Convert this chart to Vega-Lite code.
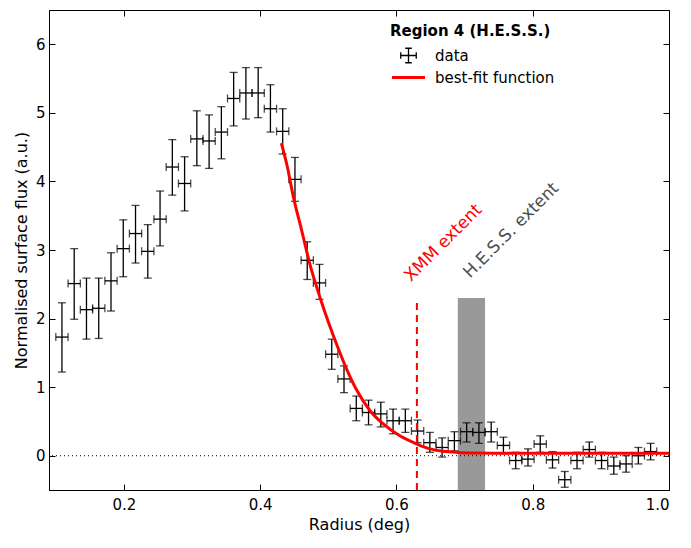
{
  "$schema": "https://vega.github.io/schema/vega-lite/v6.json",
  "width": 620,
  "height": 480,
  "autosize": "none",
  "padding": {"left": 49, "top": 10, "right": 22, "bottom": 58},
  "datasets": {
    "points": [
      {"r": 0.109, "r0": 0.100, "r1": 0.118, "f": 1.73, "lo": 1.22, "hi": 2.23},
      {"r": 0.127, "r0": 0.118, "r1": 0.136, "f": 2.51, "lo": 1.99, "hi": 3.02},
      {"r": 0.145, "r0": 0.136, "r1": 0.154, "f": 2.13, "lo": 1.70, "hi": 2.59},
      {"r": 0.163, "r0": 0.154, "r1": 0.172, "f": 2.15, "lo": 1.71, "hi": 2.59},
      {"r": 0.181, "r0": 0.172, "r1": 0.190, "f": 2.55, "lo": 2.11, "hi": 2.96},
      {"r": 0.199, "r0": 0.190, "r1": 0.208, "f": 3.02, "lo": 2.61, "hi": 3.44},
      {"r": 0.217, "r0": 0.208, "r1": 0.226, "f": 3.24, "lo": 2.81, "hi": 3.65},
      {"r": 0.235, "r0": 0.226, "r1": 0.244, "f": 2.98, "lo": 2.59, "hi": 3.37},
      {"r": 0.253, "r0": 0.244, "r1": 0.262, "f": 3.45, "lo": 3.06, "hi": 3.86},
      {"r": 0.271, "r0": 0.262, "r1": 0.280, "f": 4.21, "lo": 3.80, "hi": 4.61},
      {"r": 0.289, "r0": 0.280, "r1": 0.298, "f": 3.97, "lo": 3.57, "hi": 4.36},
      {"r": 0.307, "r0": 0.298, "r1": 0.316, "f": 4.62, "lo": 4.23, "hi": 5.03},
      {"r": 0.325, "r0": 0.316, "r1": 0.334, "f": 4.59, "lo": 4.19, "hi": 4.97},
      {"r": 0.343, "r0": 0.334, "r1": 0.352, "f": 4.72, "lo": 4.33, "hi": 5.09},
      {"r": 0.361, "r0": 0.352, "r1": 0.370, "f": 5.21, "lo": 4.81, "hi": 5.59},
      {"r": 0.379, "r0": 0.370, "r1": 0.388, "f": 5.29, "lo": 4.91, "hi": 5.66},
      {"r": 0.397, "r0": 0.388, "r1": 0.406, "f": 5.29, "lo": 4.93, "hi": 5.66},
      {"r": 0.415, "r0": 0.406, "r1": 0.424, "f": 5.06, "lo": 4.72, "hi": 5.41},
      {"r": 0.433, "r0": 0.424, "r1": 0.442, "f": 4.73, "lo": 4.40, "hi": 5.06},
      {"r": 0.451, "r0": 0.442, "r1": 0.460, "f": 4.03, "lo": 3.71, "hi": 4.35},
      {"r": 0.469, "r0": 0.460, "r1": 0.478, "f": 2.85, "lo": 2.57, "hi": 3.12},
      {"r": 0.487, "r0": 0.478, "r1": 0.496, "f": 2.52, "lo": 2.28, "hi": 2.79},
      {"r": 0.505, "r0": 0.496, "r1": 0.514, "f": 1.48, "lo": 1.26, "hi": 1.70},
      {"r": 0.523, "r0": 0.514, "r1": 0.532, "f": 1.12, "lo": 0.92, "hi": 1.31},
      {"r": 0.541, "r0": 0.532, "r1": 0.550, "f": 0.69, "lo": 0.51, "hi": 0.87},
      {"r": 0.559, "r0": 0.550, "r1": 0.568, "f": 0.63, "lo": 0.45, "hi": 0.81},
      {"r": 0.577, "r0": 0.568, "r1": 0.586, "f": 0.61, "lo": 0.42, "hi": 0.78},
      {"r": 0.595, "r0": 0.586, "r1": 0.604, "f": 0.51, "lo": 0.32, "hi": 0.68},
      {"r": 0.613, "r0": 0.604, "r1": 0.622, "f": 0.51, "lo": 0.34, "hi": 0.68},
      {"r": 0.631, "r0": 0.622, "r1": 0.640, "f": 0.36, "lo": 0.19, "hi": 0.52},
      {"r": 0.649, "r0": 0.640, "r1": 0.658, "f": 0.19, "lo": 0.05, "hi": 0.34},
      {"r": 0.667, "r0": 0.658, "r1": 0.676, "f": 0.12, "lo": -0.02, "hi": 0.26},
      {"r": 0.685, "r0": 0.676, "r1": 0.694, "f": 0.22, "lo": 0.07, "hi": 0.35},
      {"r": 0.703, "r0": 0.694, "r1": 0.712, "f": 0.35, "lo": 0.20, "hi": 0.48},
      {"r": 0.721, "r0": 0.712, "r1": 0.730, "f": 0.34, "lo": 0.18, "hi": 0.48},
      {"r": 0.739, "r0": 0.730, "r1": 0.748, "f": 0.35, "lo": 0.20, "hi": 0.49},
      {"r": 0.757, "r0": 0.748, "r1": 0.766, "f": 0.15, "lo": 0.03, "hi": 0.27},
      {"r": 0.775, "r0": 0.766, "r1": 0.784, "f": -0.07, "lo": -0.19, "hi": 0.05},
      {"r": 0.793, "r0": 0.784, "r1": 0.802, "f": -0.05, "lo": -0.15, "hi": 0.10},
      {"r": 0.811, "r0": 0.802, "r1": 0.820, "f": 0.17, "lo": 0.05, "hi": 0.29},
      {"r": 0.829, "r0": 0.820, "r1": 0.838, "f": -0.06, "lo": -0.18, "hi": 0.06},
      {"r": 0.847, "r0": 0.838, "r1": 0.856, "f": -0.35, "lo": -0.46, "hi": -0.23},
      {"r": 0.865, "r0": 0.856, "r1": 0.874, "f": -0.07, "lo": -0.19, "hi": 0.05},
      {"r": 0.883, "r0": 0.874, "r1": 0.892, "f": 0.09, "lo": -0.02, "hi": 0.20},
      {"r": 0.901, "r0": 0.892, "r1": 0.910, "f": -0.07, "lo": -0.19, "hi": 0.05},
      {"r": 0.919, "r0": 0.910, "r1": 0.928, "f": -0.15, "lo": -0.27, "hi": -0.02},
      {"r": 0.937, "r0": 0.928, "r1": 0.946, "f": -0.12, "lo": -0.24, "hi": 0.00},
      {"r": 0.955, "r0": 0.946, "r1": 0.964, "f": 0.00, "lo": -0.12, "hi": 0.12},
      {"r": 0.973, "r0": 0.964, "r1": 0.982, "f": 0.06, "lo": -0.06, "hi": 0.18}
    ],
    "fit": [
      {"r": 0.431, "f": 4.56},
      {"r": 0.439, "f": 4.25},
      {"r": 0.449, "f": 3.76},
      {"r": 0.461, "f": 3.28},
      {"r": 0.473, "f": 2.79},
      {"r": 0.488, "f": 2.30},
      {"r": 0.500, "f": 1.95},
      {"r": 0.512, "f": 1.63},
      {"r": 0.527, "f": 1.26},
      {"r": 0.542, "f": 0.95},
      {"r": 0.561, "f": 0.66},
      {"r": 0.581, "f": 0.46},
      {"r": 0.605, "f": 0.29},
      {"r": 0.630, "f": 0.17},
      {"r": 0.649, "f": 0.10},
      {"r": 0.669, "f": 0.065},
      {"r": 0.690, "f": 0.048},
      {"r": 0.720, "f": 0.039},
      {"r": 0.760, "f": 0.035},
      {"r": 0.850, "f": 0.035},
      {"r": 1.000, "f": 0.035}
    ],
    "band": [{"x0": 0.69, "x1": 0.73, "y0": -0.5, "y1": 2.3}],
    "xmm": [{"x": 0.63, "y0": -0.5, "y1": 2.3}],
    "labels": [
      {"x": 0.6215, "y": 2.53, "text": "XMM extent"},
      {"x": 0.708, "y": 2.58, "text": "H.E.S.S. extent"}
    ]
  },
  "layer": [
    {
      "data": {"name": "band"},
      "mark": {"type": "rect", "color": "#999999"},
      "encoding": {
        "x": {"field": "x0", "type": "quantitative", "scale": {"domain": [0.09, 1.0], "nice": false, "zero": false}, "axis": null},
        "x2": {"field": "x1"},
        "y": {"field": "y0", "type": "quantitative", "scale": {"domain": [-0.5, 6.5], "nice": false, "zero": false}, "axis": null},
        "y2": {"field": "y1"}
      }
    },
    {
      "data": {"values": [{"y": 0}]},
      "mark": {"type": "rule", "color": "black", "strokeWidth": 1, "strokeDash": [1, 3]},
      "encoding": {
        "y": {"field": "y", "type": "quantitative", "axis": null}
      }
    },
    {
      "data": {"name": "points"},
      "mark": {"type": "rule", "strokeWidth": 1.3},
      "encoding": {
        "x": {
          "field": "r", "type": "quantitative", "title": "Radius (deg)",
          "scale": {"domain": [0.09, 1.0], "nice": false, "zero": false},
          "axis": {"orient": "bottom", "values": [0.2, 0.4, 0.6, 0.8, 1.0], "format": ".1f", "tickSize": -6, "labelPadding": 13, "titlePadding": 4}
        },
        "y": {
          "field": "lo", "type": "quantitative", "title": "Normalised surface flux (a.u.)",
          "scale": {"domain": [-0.5, 6.5], "nice": false, "zero": false},
          "axis": {"orient": "left", "values": [0, 1, 2, 3, 4, 5, 6], "format": "d", "tickSize": -6, "labelPadding": 10, "titlePadding": 6}
        },
        "y2": {"field": "hi"},
        "color": {
          "datum": "data",
          "scale": {"domain": ["data", "best-fit function"], "range": ["black", "#ff0000"]},
          "legend": {
            "orient": "none",
            "legendX": 341,
            "legendY": 14,
            "title": "Region 4 (H.E.S.S.)",
            "titleFont": "DejaVu Sans",
            "titleFontSize": 15,
            "titleFontWeight": "bold",
            "titleColor": "black",
            "titlePadding": 9,
            "labelFont": "DejaVu Sans",
            "labelFontSize": 15,
            "labelColor": "black",
            "labelOffset": 19,
            "symbolOffset": 11,
            "symbolType": "stroke",
            "symbolSize": 1089,
            "rowPadding": 4,
            "encode": {
              "symbols": {
                "update": {
                  "shape": {"signal": "datum.value === 'data' ? 'M-0.47,0H0.47M0,-0.44V0.44M-0.47,-0.2V0.2M0.47,-0.2V0.2M-0.2,-0.44H0.2M-0.2,0.44H0.2' : 'stroke'"},
                  "strokeWidth": {"signal": "datum.value === 'data' ? 1.3 : 3"}
                }
              }
            }
          }
        }
      }
    },
    {
      "data": {"name": "points"},
      "mark": {"type": "rule", "color": "black", "strokeWidth": 1.3},
      "encoding": {
        "x": {"field": "r0", "type": "quantitative", "title": null,
          "axis": {"orient": "top", "values": [0.2, 0.4, 0.6, 0.8, 1.0], "labels": false, "domain": false, "tickSize": -6}},
        "x2": {"field": "r1"},
        "y": {"field": "f", "type": "quantitative", "title": null,
          "axis": {"orient": "right", "values": [0, 1, 2, 3, 4, 5, 6], "labels": false, "domain": false, "tickSize": -6}}
      }
    },
    {
      "data": {"name": "points"},
      "mark": {"type": "tick", "orient": "horizontal", "color": "black", "size": 8, "thickness": 1.3},
      "encoding": {
        "x": {"field": "r", "type": "quantitative", "axis": null},
        "y": {"field": "hi", "type": "quantitative", "axis": null}
      }
    },
    {
      "data": {"name": "points"},
      "mark": {"type": "tick", "orient": "horizontal", "color": "black", "size": 8, "thickness": 1.3},
      "encoding": {
        "x": {"field": "r", "type": "quantitative", "axis": null},
        "y": {"field": "lo", "type": "quantitative", "axis": null}
      }
    },
    {
      "data": {"name": "points"},
      "mark": {"type": "tick", "orient": "vertical", "color": "black", "size": 8, "thickness": 1.3},
      "encoding": {
        "x": {"field": "r0", "type": "quantitative", "axis": null},
        "y": {"field": "f", "type": "quantitative", "axis": null}
      }
    },
    {
      "data": {"name": "points"},
      "mark": {"type": "tick", "orient": "vertical", "color": "black", "size": 8, "thickness": 1.3},
      "encoding": {
        "x": {"field": "r1", "type": "quantitative", "axis": null},
        "y": {"field": "f", "type": "quantitative", "axis": null}
      }
    },
    {
      "data": {"name": "fit"},
      "mark": {"type": "line", "strokeWidth": 3, "interpolate": "monotone", "clip": true},
      "encoding": {
        "x": {"field": "r", "type": "quantitative", "axis": null},
        "y": {"field": "f", "type": "quantitative", "axis": null},
        "color": {"datum": "best-fit function"}
      }
    },
    {
      "data": {"name": "xmm"},
      "mark": {"type": "rule", "color": "#ff0000", "strokeWidth": 2, "strokeDash": [7, 5]},
      "encoding": {
        "x": {"field": "x", "type": "quantitative", "axis": null},
        "y": {"field": "y0", "type": "quantitative", "axis": null},
        "y2": {"field": "y1"}
      }
    },
    {
      "data": {"name": "labels"},
      "transform": [{"filter": "datum.text === 'XMM extent'"}],
      "mark": {"type": "text", "angle": -45, "align": "left", "baseline": "alphabetic", "font": "DejaVu Sans", "fontSize": 17, "color": "#ff0000"},
      "encoding": {
        "x": {"field": "x", "type": "quantitative", "axis": null},
        "y": {"field": "y", "type": "quantitative", "axis": null},
        "text": {"field": "text"}
      }
    },
    {
      "data": {"name": "labels"},
      "transform": [{"filter": "datum.text === 'H.E.S.S. extent'"}],
      "mark": {"type": "text", "angle": -45, "align": "left", "baseline": "alphabetic", "font": "DejaVu Sans", "fontSize": 17, "color": "#4d4d4d"},
      "encoding": {
        "x": {"field": "x", "type": "quantitative", "axis": null},
        "y": {"field": "y", "type": "quantitative", "axis": null},
        "text": {"field": "text"}
      }
    }
  ],
  "resolve": {"axis": {"x": "independent", "y": "independent"}},
  "config": {
    "view": {"stroke": "black", "strokeWidth": 1},
    "axis": {
      "grid": false,
      "domainColor": "black",
      "tickColor": "black",
      "tickWidth": 1,
      "labelColor": "black",
      "labelFont": "DejaVu Sans",
      "labelFontSize": 15,
      "titleColor": "black",
      "titleFont": "DejaVu Sans",
      "titleFontSize": 16,
      "titleFontWeight": "normal"
    }
  }
}
